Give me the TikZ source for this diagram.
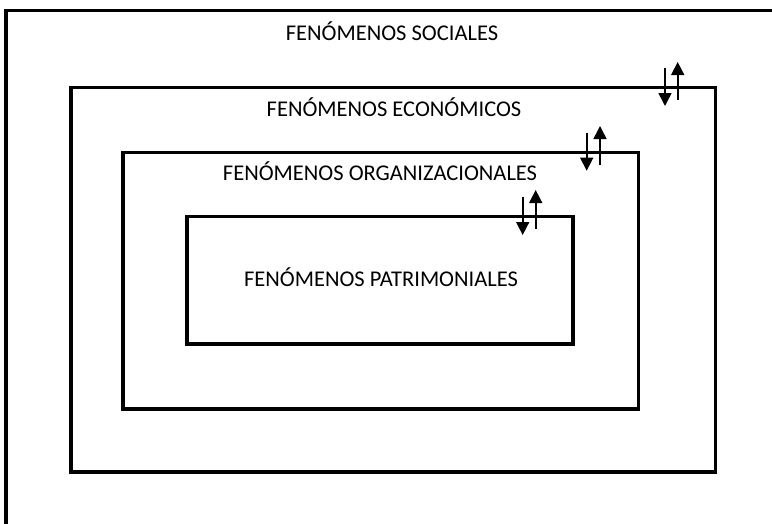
\documentclass[tikz,border=0pt]{standalone}
\usepackage{fontspec}
\setmainfont{Carlito}
\usetikzlibrary{arrows.meta}
\tikzset{
  frame/.style={draw=black, line width=3.8pt},
  boxlabel/.style={font=\fontsize{22.5}{26}\selectfont, anchor=base, inner sep=0pt},
  flow/.style={line width=1.6pt, -{Triangle[width=13pt,length=13pt]}},
}
\begin{document}
\begin{tikzpicture}[x=1pt,y=-1pt]
\useasboundingbox (0,0) rectangle (772,523);
% outer frame (open on right and bottom)
\coordinate (o1) at (780,10.5);
\coordinate (o2) at (6,10.5);
\coordinate (o3) at (6,530);
\draw[frame, line join=miter] (o1) -- (o2) -- (o3);
% boxes
\draw[frame] (71,87.5) rectangle (715.5,472) coordinate (econ);
\draw[frame] (123,152.5) rectangle (638.5,409) coordinate (org);
\draw[frame] (187,216.5) rectangle (573,344) coordinate (pat);
% labels
\node[boxlabel] (tsoc) at (392,40) {FENÓMENOS SOCIALES};
\node[boxlabel] (tecon) at (394,116) {FENÓMENOS ECONÓMICOS};
\node[boxlabel] (torg) at (380,180.7) {FENÓMENOS ORGANIZACIONALES};
\node[boxlabel] (tpat) at (381,286) {FENÓMENOS PATRIMONIALES};
% arrows pair 1
\coordinate (a1s) at (665,68); \coordinate (a1e) at (665,106);
\coordinate (b1s) at (677.7,100); \coordinate (b1e) at (677.7,62);
\draw[flow] (a1s) -- (a1e);
\draw[flow] (b1s) -- (b1e);
% arrows pair 2
\coordinate (a2s) at (586.7,132.7); \coordinate (a2e) at (586.7,170.7);
\coordinate (b2s) at (600,165); \coordinate (b2e) at (600,126);
\draw[flow] (a2s) -- (a2e);
\draw[flow] (b2s) -- (b2e);
% arrows pair 3
\coordinate (a3s) at (522.7,196.7); \coordinate (a3e) at (522.7,235);
\coordinate (b3s) at (535.7,229.3); \coordinate (b3e) at (535.7,190);
\draw[flow] (a3s) -- (a3e);
\draw[flow] (b3s) -- (b3e);
\end{tikzpicture}
\end{document}
